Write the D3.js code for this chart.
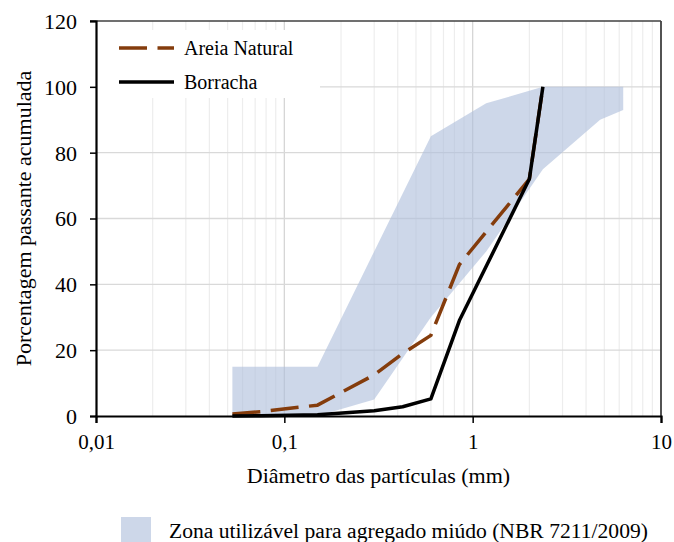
<!DOCTYPE html>
<html>
<head>
<meta charset="utf-8">
<script src="https://cdn.jsdelivr.net/npm/d3@7"></script>
<style>
  html, body { margin: 0; padding: 0; background: #fff; }
  svg { display: block; font-family: "Liberation Serif", "Times New Roman", serif; }
</style>
</head>
<body>
<svg id="chart" width="674" height="542"></svg>
<script>
// Sieve openings (mm) and cumulative passing (%)
const sieves    = [0.053, 0.075, 0.15, 0.3, 0.425, 0.6, 0.85, 2.0, 2.36];
const areia     = [0.6, 1.3, 3.3, 12.5, 19, 24.5, 46, 72, 100];
const borracha  = [0, 0.1, 0.4, 1.6, 2.8, 5.2, 29, 72, 100];

// NBR 7211 usable zone limits
const zoneUpperX = [0.053, 0.15, 0.3, 0.6, 1.18, 2.36, 6.3];
const zoneUpperY = [15, 15, 50, 85, 95, 100, 100];
const zoneLowerX = [0.053, 0.15, 0.3, 0.6, 1.18, 2.36, 4.75, 6.3];
const zoneLowerY = [0, 0, 5, 30, 50, 75, 90, 93];

const xTicks = [0.01, 0.1, 1, 10];
const xTickLabels = ["0,01", "0,1", "1", "10"];
const yTicks = [0, 20, 40, 60, 80, 100, 120];

const svg = d3.select("#chart");
const pLeft = 96, pRight = 661, pTop = 21, pBottom = 416;

const x = d3.scaleLog().domain([0.01, 10]).range([pLeft, pRight]);
const y = d3.scaleLinear().domain([0, 120]).range([pBottom, pTop]);

// minor vertical grid (2..9 per decade)
const minor = [];
[0.01, 0.1, 1].forEach(d => { for (let k = 2; k <= 9; k++) minor.push(d * k); });
svg.append("g").selectAll("line").data(minor).join("line")
  .attr("x1", d => x(d)).attr("x2", d => x(d))
  .attr("y1", pTop).attr("y2", pBottom)
  .attr("stroke", "#ededed").attr("stroke-width", 1.2);

// major grid
svg.append("g").selectAll("line").data([0.1, 1]).join("line")
  .attr("x1", d => x(d)).attr("x2", d => x(d))
  .attr("y1", pTop).attr("y2", pBottom)
  .attr("stroke", "#d6d6d6").attr("stroke-width", 1.3);
svg.append("g").selectAll("line").data(yTicks.filter(v => v > 0 && v < 120)).join("line")
  .attr("x1", pLeft).attr("x2", pRight)
  .attr("y1", d => y(d)).attr("y2", d => y(d))
  .attr("stroke", "#d9d9d9").attr("stroke-width", 1.3);

// usable zone
const zonePts = zoneUpperX.map((v, i) => [v, zoneUpperY[i]])
  .concat(zoneLowerX.map((v, i) => [v, zoneLowerY[i]]).reverse());
svg.append("path")
  .attr("d", d3.line().x(d => x(d[0])).y(d => y(d[1]))(zonePts) + "Z")
  .attr("fill", "#aebfdc").attr("fill-opacity", 0.62);

// legend background
svg.append("rect").attr("x", 97).attr("y", 30).attr("width", 223).attr("height", 68).attr("fill", "#fff");

// frame (top and right)
svg.append("line").attr("x1", 90).attr("x2", pRight).attr("y1", pTop).attr("y2", pTop)
  .attr("stroke", "#404040").attr("stroke-width", 1.5);
svg.append("line").attr("x1", pRight).attr("x2", pRight).attr("y1", pTop).attr("y2", pBottom)
  .attr("stroke", "#404040").attr("stroke-width", 1.8);

const line = d3.line().x(d => x(d[0])).y(d => y(d[1]));

// Areia Natural
svg.append("path").datum(sieves.map((s, i) => [s, areia[i]]))
  .attr("d", line).attr("fill", "none")
  .attr("stroke", "#843c0c").attr("stroke-width", 3.5)
  .attr("stroke-dasharray", "28,10.5").attr("stroke-linejoin", "round");

// Borracha
svg.append("path").datum(sieves.map((s, i) => [s, borracha[i]]))
  .attr("d", line).attr("fill", "none")
  .attr("stroke", "#000").attr("stroke-width", 3.5).attr("stroke-linejoin", "round");

// axes
const yAxis = d3.axisLeft(y).tickValues(yTicks).tickSize(6).tickFormat(d3.format("d"));
const gy = svg.append("g").attr("transform", `translate(${pLeft},0)`).call(yAxis);
gy.select(".domain").attr("stroke", "#000").attr("stroke-width", 2.2);
gy.selectAll(".tick line").attr("stroke", "#000").attr("stroke-width", 1.5);
gy.selectAll(".tick text").attr("font-family", "Liberation Serif").attr("font-size", 22)
  .attr("fill", "#000").attr("x", -19).attr("dy", "0.34em");

const xAxis = d3.axisBottom(x).tickValues(xTicks).tickSize(7)
  .tickFormat((d, i) => xTickLabels[i]);
const gx = svg.append("g").attr("transform", `translate(0,${pBottom})`).call(xAxis);
gx.select(".domain").attr("stroke", "#000").attr("stroke-width", 2.2);
gx.selectAll(".tick line").attr("stroke", "#000").attr("stroke-width", 1.5);
gx.selectAll(".tick text").attr("font-family", "Liberation Serif").attr("font-size", 21)
  .attr("fill", "#000").attr("y", 18).attr("dy", "0.71em");

// axis titles
svg.append("text").attr("x", (pLeft + pRight) / 2).attr("y", 483)
  .attr("text-anchor", "middle").attr("font-size", 22).attr("fill", "#000")
  .text("Diâmetro das partículas (mm)");
svg.append("text").attr("transform", `translate(31,${(pTop + pBottom) / 2}) rotate(-90)`)
  .attr("text-anchor", "middle").attr("font-size", 22).attr("fill", "#000")
  .text("Porcentagem passante acumulada");

// legend inside plot
svg.append("line").attr("x1", 119).attr("x2", 174).attr("y1", 48).attr("y2", 48)
  .attr("stroke", "#843c0c").attr("stroke-width", 3.5).attr("stroke-dasharray", "28,10.5");
svg.append("text").attr("x", 184).attr("y", 55).attr("font-size", 20).attr("fill", "#000").text("Areia Natural");
svg.append("line").attr("x1", 119).attr("x2", 174).attr("y1", 82).attr("y2", 82)
  .attr("stroke", "#000").attr("stroke-width", 3.5);
svg.append("text").attr("x", 184).attr("y", 89).attr("font-size", 20).attr("fill", "#000").text("Borracha");

// zone legend
svg.append("rect").attr("x", 121).attr("y", 517).attr("width", 30).attr("height", 30)
  .attr("fill", "#aebfdc").attr("fill-opacity", 0.62);
svg.append("text").attr("x", 169).attr("y", 538).attr("font-size", 21.6).attr("fill", "#000")
  .text("Zona utilizável para agregado miúdo (NBR 7211/2009)");
</script>
</body>
</html>
